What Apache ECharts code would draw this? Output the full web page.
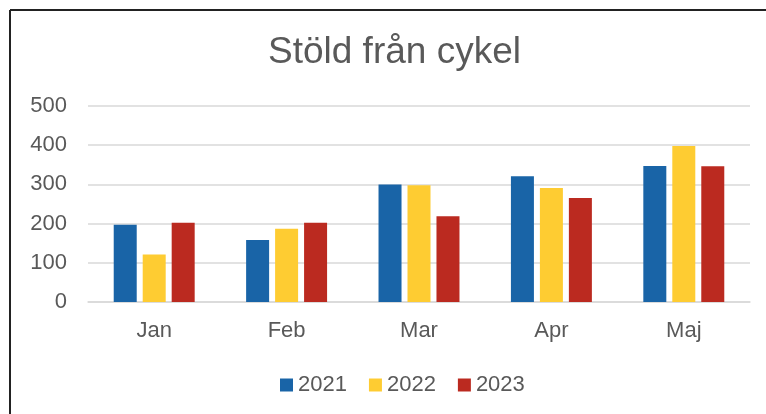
<!DOCTYPE html>
<html>
<head>
<meta charset="utf-8">
<title>Stöld från cykel</title>
<script src="https://cdn.jsdelivr.net/npm/echarts@6/dist/echarts.min.js"></script>
<style>
    html, body { margin: 0; padding: 0; background: #fff; }
    #chart { width: 766px; height: 414px; }
</style>
</head>
<body>
<div id="chart"></div>
<script>
var months = ['Jan', 'Feb', 'Mar', 'Apr', 'Maj'];
var years = ['2021', '2022', '2023'];
var values2021 = [197, 158, 300, 321, 347];
var values2022 = [121, 187, 298, 291, 398];
var values2023 = [202, 202, 219, 265, 346];
var yearColors = ['#1964A7', '#FECC32', '#BB2A20'];

var textColor = '#595959';
var fontFamily = '"Liberation Sans", Arial, sans-serif';

var chart = echarts.init(document.getElementById('chart'));

function makeSeries(name, data, color) {
    return {
        name: name,
        type: 'bar',
        data: data,
        barWidth: 23,
        barGap: '26%',
        itemStyle: { color: color }
    };
}

var option = {
    backgroundColor: '#fff',
    animation: false,
    textStyle: { fontFamily: fontFamily },
    title: {
        text: 'Stöld från cykel',
        left: 263,
        top: 29,
        textStyle: {
            color: textColor,
            fontWeight: 'normal',
            fontSize: 37,
            fontFamily: fontFamily
        }
    },
    legend: {
        data: years,
        left: 275,
        top: 369,
        itemWidth: 13,
        itemHeight: 13,
        itemGap: 22,
        icon: 'rect',
        textStyle: { color: textColor, fontSize: 22, fontFamily: fontFamily }
    },
    grid: {
        left: 88,
        right: 16,
        top: 106,
        bottom: 112
    },
    xAxis: {
        type: 'category',
        data: months,
        axisLine: { lineStyle: { color: '#D9D9D9', width: 1.5 } },
        axisTick: { show: false },
        axisLabel: {
            color: textColor,
            fontSize: 22,
            margin: 18,
            fontFamily: fontFamily
        }
    },
    yAxis: {
        type: 'value',
        min: 0,
        max: 500,
        interval: 100,
        axisLine: { show: false },
        axisTick: { show: false },
        splitLine: { lineStyle: { color: '#D9D9D9', width: 1.5 } },
        axisLabel: {
            color: textColor,
            fontSize: 22,
            margin: 21,
            fontFamily: fontFamily
        }
    },
    graphic: [
        {
            type: 'line',
            shape: { x1: 10, y1: 10, x2: 766, y2: 10 },
            style: { stroke: '#222', lineWidth: 2 }
        },
        {
            type: 'line',
            shape: { x1: 10, y1: 10, x2: 10, y2: 414 },
            style: { stroke: '#222', lineWidth: 2 }
        }
    ],
    series: [
        makeSeries(years[0], values2021, yearColors[0]),
        makeSeries(years[1], values2022, yearColors[1]),
        makeSeries(years[2], values2023, yearColors[2])
    ]
};

chart.setOption(option);
</script>
</body>
</html>
